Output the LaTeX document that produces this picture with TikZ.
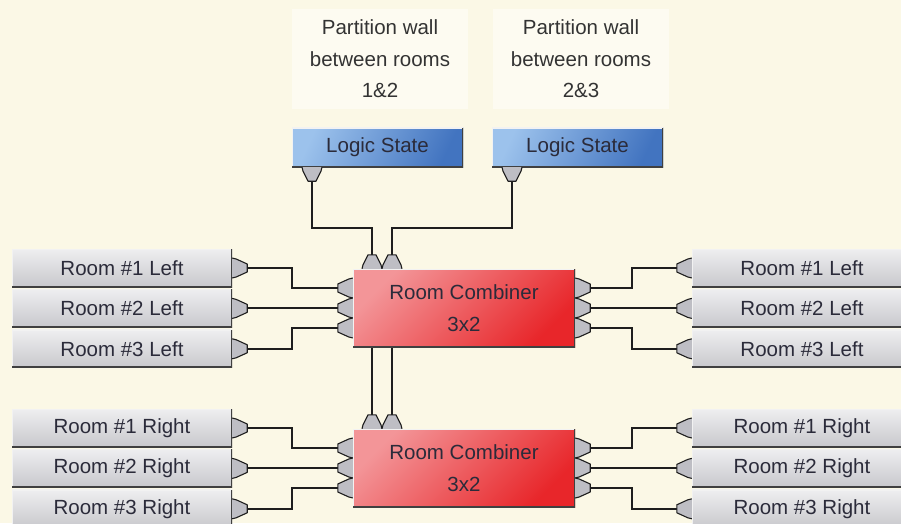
\documentclass[tikz,border=0pt]{standalone}
\usepackage{fontspec}
\setmainfont{Liberation Sans}
\usetikzlibrary{positioning}

\pgfdeclarelayer{back}
\pgfdeclarelayer{wires}
\pgfsetlayers{back,wires,main}

\definecolor{bgCream}{HTML}{FBF8E6}
\definecolor{noteFill}{HTML}{FDFBF1}
\definecolor{roomTop}{HTML}{EEEEF0}
\definecolor{roomBot}{HTML}{C8C8CC}
\definecolor{lsTop}{HTML}{9CC2EC}
\definecolor{lsBot}{HTML}{4274C0}
\definecolor{combTop}{HTML}{F39598}
\definecolor{combBot}{HTML}{E8262A}
\definecolor{portGray}{HTML}{BEBEC4}
\definecolor{wireDark}{HTML}{1E1E1E}
\definecolor{labelInk}{HTML}{2B2B3A}
\definecolor{edgeLight}{HTML}{F2F2F2}

\newcommand\diagfont{\fontsize{20.5}{31.5}\selectfont}

\begin{document}
\begin{tikzpicture}[
    x=1pt, y=1pt,
    edged/.style={path picture={
        \draw[line width=2pt, edgeLight] (path picture bounding box.south west) |- (path picture bounding box.north east);
        \draw[line width=3pt, wireDark!85] (path picture bounding box.south west) -| (path picture bounding box.north east);
    }},
    room/.style={rectangle, edged, inner sep=0pt, minimum width=220pt, minimum height=38pt,
        top color=roomTop, bottom color=roomBot, text=labelInk, font=\diagfont},
    logic/.style={rectangle, edged, inner sep=0pt, minimum width=171pt, minimum height=39pt,
        top color=lsTop, bottom color=lsBot, shading angle=65, text=labelInk, font=\diagfont},
    combiner/.style={rectangle, edged, inner sep=0pt, minimum width=222pt, minimum height=78pt,
        top color=combTop, bottom color=combBot, shading angle=45, text=labelInk, align=center, font=\diagfont},
    note/.style={rectangle, fill=noteFill, inner sep=0pt, minimum width=176pt, minimum height=100pt,
        text=black!80, align=center, font=\diagfont},
    wire/.style={draw=wireDark, line width=2pt},
    portline/.style={draw=wireDark, line width=1.1pt, line join=round},
    hport/.pic={
        \fill[portGray] (0,-10) -- (4,-9) -- (15,-4) -- (15,4) -- (4,9) -- (0,10) -- cycle;
        \draw[portline] (0,-10) -- (4,-9) -- (15,-4) -- (15,4) -- (4,9) -- (0,10);
        \coordinate (-tip) at (15,0);
    },
    vport/.pic={
        \fill[portGray] (-10,0) -- (-9,-4) -- (-4,-14) -- (4,-14) -- (9,-4) -- (10,0) -- cycle;
        \draw[portline] (-10,0) -- (-9,-4) -- (-4,-14) -- (4,-14) -- (9,-4) -- (10,0);
        \coordinate (-tip) at (0,-14);
    },
]
    \useasboundingbox (0,0) rectangle (901,523);
    \begin{pgfonlayer}{back}
        \fill[bgCream] (0,0) rectangle (901,523);
    \end{pgfonlayer}

    % partition walls and their switches
    \node[note] (note12) at (380,464) {Partition wall\\between rooms\\1\&2};
    \node[note] (note23) at (581,464) {Partition wall\\between rooms\\2\&3};

    \node[logic] (ls12) at (377.5,375.5) {Logic State};
    \node[logic] (ls23) at (577.5,375.5) {Logic State};

    % combiners
    \node[combiner] (combL) at (464,215) {Room Combiner\\3x2};
    \node[combiner] (combR) at (464,55)  {Room Combiner\\3x2};

    % sources
    \node[room]                      (srcL1) at (122,255) {Room \#1 Left};
    \node[room, below=2pt of srcL1]  (srcL2)              {Room \#2 Left};
    \node[room, below=2pt of srcL2]  (srcL3)              {Room \#3 Left};
    \node[room]                      (srcR1) at (122,95)  {Room \#1 Right};
    \node[room, below=2pt of srcR1]  (srcR2)              {Room \#2 Right};
    \node[room, below=2pt of srcR2]  (srcR3)              {Room \#3 Right};

    % outputs
    \node[room]                      (dstL1) at (802,255) {Room \#1 Left};
    \node[room, below=2pt of dstL1]  (dstL2)              {Room \#2 Left};
    \node[room, below=2pt of dstL2]  (dstL3)              {Room \#3 Left};
    \node[room]                      (dstR1) at (802,95)  {Room \#1 Right};
    \node[room, below=2pt of dstR1]  (dstR2)              {Room \#2 Right};
    \node[room, below=2pt of dstR2]  (dstR3)              {Room \#3 Right};

    % ports
    \foreach \g in {L,R}
        \foreach \i/\dy in {1/20,2/0,3/-20} {
            \pic (src\g\i p) at (src\g\i.east) {hport};
            \pic[xscale=-1] (dst\g\i p) at (dst\g\i.west) {hport};
            \pic[xscale=-1] (comb\g in\i) at ([yshift=\dy pt]comb\g.west) {hport};
            \pic (comb\g out\i) at ([yshift=\dy pt]comb\g.east) {hport};
        }
    \foreach \g in {L,R} {
        \pic[yscale=-1] (comb\g t1) at ([xshift=-92pt]comb\g.north) {vport};
        \pic[yscale=-1] (comb\g t2) at ([xshift=-72pt]comb\g.north) {vport};
    }
    \pic (ls12p) at ([xshift=-65.5pt]ls12.south) {vport};
    \pic (ls23p) at ([xshift=-65.5pt]ls23.south) {vport};

    % wiring
    \begin{pgfonlayer}{wires}
        \foreach \g in {L,R}
            \foreach \i in {1,2,3} {
                \draw[wire] (src\g\i p-tip) -- ++(45,0) |- (comb\g in\i-tip);
                \draw[wire] (comb\g out\i-tip) -- ++(42,0) |- (dst\g\i p-tip);
            }
        \draw[wire] (ls12p-tip) -- ++(0,-47) -| (combLt1-tip) -- (combRt1-tip);
        \draw[wire] (ls23p-tip) -- ++(0,-47) -| (combLt2-tip) -- (combRt2-tip);
    \end{pgfonlayer}
\end{tikzpicture}
\end{document}
